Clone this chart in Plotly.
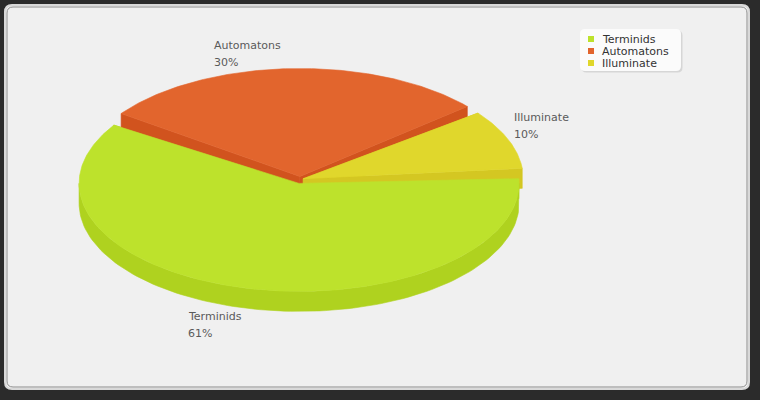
import numpy as np
import plotly.graph_objects as go

# ---------------- data ----------------
labels = ["Terminids", "Automatons", "Illuminate"]
values = [60.6, 29.7, 9.7]
top_colors = ["#bde22c", "#e2652d", "#e0d72c"]
side_colors = ["#afd21f", "#d1531e", "#d4c722"]

# ---------------- style / geometry ----------------
W, H = 760, 400
CX, CY = 300, 180
RX, RY = 220, 108
DEPTH = 20
EXPLODE = 3.5
START = 4.0   # degrees (east), slices go clockwise
GAP = 3.0     # angular gap between slices (degrees)
FONT = "DejaVu Sans"
label_pos = {"Terminids": (188, 316), "Automatons": (214, 45), "Illuminate": (514, 117)}

total = float(sum(values))
pcts = [v / total * 100 for v in values]
cum = np.concatenate([[0], np.cumsum(values)]) / total

def pt(theta_deg, cx, cy, dz=0.0):
    t = np.radians(theta_deg)
    return cx + RX * np.cos(t), cy - RY * np.sin(t) + dz

slices = []
for i, lab in enumerate(labels):
    a0 = START - cum[i] * 360 - GAP / 2
    a1 = START - cum[i + 1] * 360 + GAP / 2
    mid = np.radians((a0 + a1) / 2)
    cx = CX + EXPLODE * np.cos(mid)
    cy = CY - EXPLODE * np.sin(mid)
    slices.append(dict(a0=a0, a1=a1, cx=cx, cy=cy, i=i))

fig = go.Figure()

def poly(xs, ys, color):
    fig.add_trace(go.Scatter(x=list(xs), y=list(ys), mode="lines", fill="toself",
                             fillcolor=color, line=dict(color=color, width=0.6),
                             hoverinfo="skip", showlegend=False))

# 1) radial faces
for s in slices:
    for a in (s["a0"], s["a1"]):
        px, py = pt(a, s["cx"], s["cy"])
        xs = [s["cx"], px, px, s["cx"], s["cx"]]
        ys = [s["cy"], py, py + DEPTH, s["cy"] + DEPTH, s["cy"]]
        poly(xs, ys, side_colors[s["i"]])

# 2) outer curved sides (front half only)
for s in slices:
    lo, hi = min(s["a0"], s["a1"]), max(s["a0"], s["a1"])
    for k in (-360, 0, 360):
        f0, f1 = -180 + k, 0 + k
        a_lo, a_hi = max(lo, f0), min(hi, f1)
        if a_hi > a_lo:
            th = np.linspace(a_lo, a_hi, 120)
            xt, yt = pt(th, s["cx"], s["cy"])
            xb, yb = pt(th[::-1], s["cx"], s["cy"], DEPTH)
            poly(np.concatenate([xt, xb, xt[:1]]), np.concatenate([yt, yb, yt[:1]]),
                 side_colors[s["i"]])

# 3) tops
for s in slices:
    n = max(int(abs(s["a1"] - s["a0"]) * 1.5), 10)
    th = np.linspace(s["a0"], s["a1"], n)
    xa, ya = pt(th, s["cx"], s["cy"])
    xs = np.concatenate([[s["cx"]], xa, [s["cx"]]])
    ys = np.concatenate([[s["cy"]], ya, [s["cy"]]])
    poly(xs, ys, top_colors[s["i"]])

# slice labels
annotations = []
for i, lab in enumerate(labels):
    lx, ly = label_pos[lab]
    annotations.append(dict(x=lx - 2, y=ly, xref="x", yref="y", text=lab, showarrow=False,
                            xanchor="left", yanchor="middle",
                            font=dict(family=FONT, size=11, color="#5a5a5a")))
    annotations.append(dict(x=lx - 2, y=ly + 17, xref="x", yref="y", text=f"{pcts[i]:.0f}%",
                            showarrow=False, xanchor="left", yanchor="middle",
                            font=dict(family=FONT, size=11, color="#5a5a5a")))

# legend
LX, LY, LW, LH = 580, 29, 101, 42
leg_x = [591] * len(labels)
leg_y = [LY + 10 + 12 * i for i in range(len(labels))]
fig.add_trace(go.Scatter(x=leg_x, y=leg_y, mode="markers",
                         marker=dict(symbol="square", size=6, color=top_colors),
                         hoverinfo="skip", showlegend=False))
for i, lab in enumerate(labels):
    annotations.append(dict(x=600, y=leg_y[i], xref="x", yref="y", text=lab, showarrow=False,
                            xanchor="left", yanchor="middle",
                            font=dict(family=FONT, size=11, color="#333333")))

def rrect(x0, y0, x1, y1, r):
    return (f"M{x0+r},{y0} L{x1-r},{y0} Q{x1},{y0} {x1},{y0+r} L{x1},{y1-r} "
            f"Q{x1},{y1} {x1-r},{y1} L{x0+r},{y1} Q{x0},{y1} {x0},{y1-r} "
            f"L{x0},{y0+r} Q{x0},{y0} {x0+r},{y0} Z")

shapes = [
    dict(type="path", path=rrect(5, 5, 749, 389, 7), fillcolor="#f0f0f0",
         line=dict(color="#d9d9d9", width=2), layer="below", xref="x", yref="y"),
    dict(type="path", path=rrect(7, 7, 747, 387, 6), fillcolor="rgba(0,0,0,0)",
         line=dict(color="#8c8c8c", width=1), layer="below", xref="x", yref="y"),
    dict(type="path", path=rrect(LX + 1.5, LY + 1.5, LX + LW + 1.5, LY + LH + 1.5, 5),
         fillcolor="#d6d6d6", line=dict(width=0), layer="below", xref="x", yref="y"),
    dict(type="path", path=rrect(LX, LY, LX + LW, LY + LH, 5), fillcolor="#fbfbfb",
         line=dict(width=0), layer="below", xref="x", yref="y"),
]

fig.update_layout(
    width=W, height=H, margin=dict(l=0, r=0, t=0, b=0),
    paper_bgcolor="#2b2b2b", plot_bgcolor="#2b2b2b",
    xaxis=dict(range=[0, W], visible=False, fixedrange=True),
    yaxis=dict(range=[H, 0], visible=False, fixedrange=True),
    shapes=shapes, annotations=annotations, showlegend=False,
)
fig.write_html("out.html", config={"displayModeBar": False},
               post_script="document.body.style.margin='0';document.body.style.overflow='hidden';")
